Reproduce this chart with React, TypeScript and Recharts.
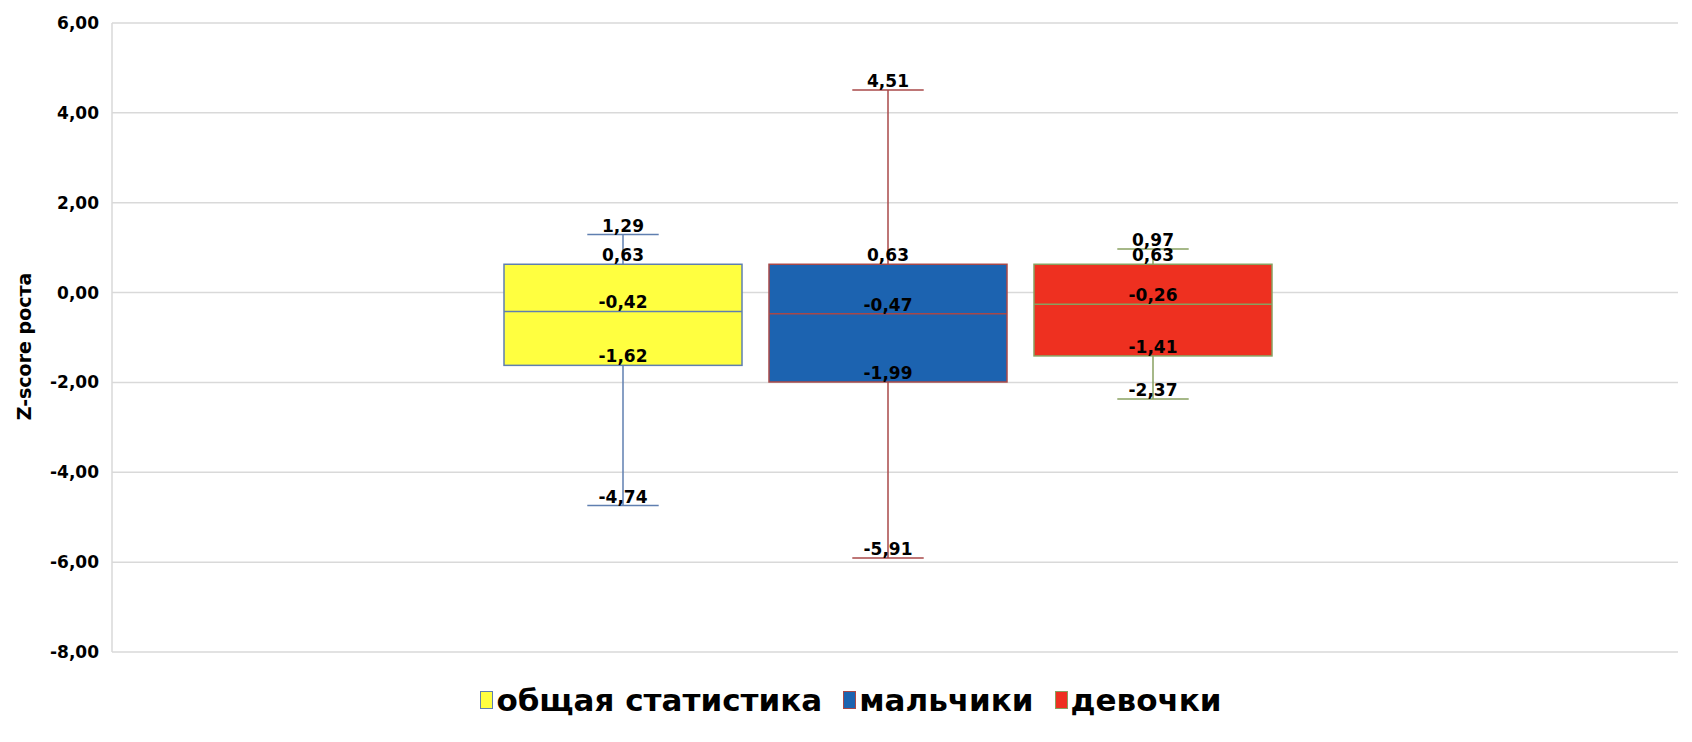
import React from "react"
import { ComposedChart, Bar, XAxis, YAxis, CartesianGrid, Legend } from "recharts"

const FONT = '"DejaVu Sans", Verdana, sans-serif'

const seriesNames = ["общая статистика", "мальчики", "девочки"]
const minValues = [-4.74, -5.91, -2.37]
const q1Values = [-1.62, -1.99, -1.41]
const medianValues = [-0.42, -0.47, -0.26]
const q3Values = [0.63, 0.63, 0.63]
const maxValues = [1.29, 4.51, 0.97]
const yTicks = [-8, -6, -4, -2, 0, 2, 4, 6]

const fills = ["#ffff40", "#1c63b0", "#ee3020"]
const strokes = ["#5f7fb0", "#a84848", "#88a060"]

const fmt = (v: number) => v.toFixed(2).replace(".", ",")

// one category, each series is a [q1, q3] range bar
const row: Record<string, any> = { name: "group" }
seriesNames.forEach((_, i) => {
  row[`s${i}`] = [q1Values[i], q3Values[i]]
})
const data = [row]

function makeBoxShape(i: number) {
  return (props: any) => {
    const { x, y, width, height } = props
    const q1 = q1Values[i]
    const q3 = q3Values[i]
    const k = height / (q3 - q1)
    const py = (v: number) => y + (q3 - v) * k
    const cx = x + width / 2
    const cap = width * 0.3
    const stroke = strokes[i]
    const lbl = (v: number) => (
      <text
        key={`l${v}`}
        x={cx}
        y={py(v) - 3}
        textAnchor="middle"
        fontFamily={FONT}
        fontWeight="bold"
        fontSize={17}
        fill="#000"
      >
        {fmt(v)}
      </text>
    )
    return (
      <g>
        <line x1={cx} x2={cx} y1={py(maxValues[i])} y2={py(q3)} stroke={stroke} strokeWidth={1.5} />
        <line x1={cx} x2={cx} y1={py(q1)} y2={py(minValues[i])} stroke={stroke} strokeWidth={1.5} />
        <line x1={cx - cap / 2} x2={cx + cap / 2} y1={py(maxValues[i])} y2={py(maxValues[i])} stroke={stroke} strokeWidth={1.5} />
        <line x1={cx - cap / 2} x2={cx + cap / 2} y1={py(minValues[i])} y2={py(minValues[i])} stroke={stroke} strokeWidth={1.5} />
        <rect x={x} y={y} width={width} height={height} fill={fills[i]} stroke={stroke} strokeWidth={1.5} />
        <line x1={x} x2={x + width} y1={py(medianValues[i])} y2={py(medianValues[i])} stroke={stroke} strokeWidth={1.5} />
        {lbl(maxValues[i])}
        {lbl(q3)}
        {lbl(medianValues[i])}
        {lbl(q1)}
        {lbl(minValues[i])}
      </g>
    )
  }
}

const renderLegend = () => (
  <div
    style={{
      height: 70,
      display: "flex",
      justifyContent: "center",
      alignItems: "flex-start",
      paddingTop: 30,
      paddingLeft: 24,
      boxSizing: "border-box",
      fontFamily: FONT,
      fontWeight: "bold",
      fontSize: 31,
      color: "#000",
      lineHeight: "36px",
    }}
  >
    {seriesNames.map((n, i) => (
      <div key={n} style={{ display: "flex", alignItems: "center", marginRight: i < seriesNames.length - 1 ? 21 : 0 }}>
        <span
          style={{
            display: "inline-block",
            width: 11,
            height: 16,
            background: fills[i],
            border: `1px solid ${strokes[i]}`,
            marginRight: 3,
          }}
        />
        <span>{n}</span>
      </div>
    ))}
  </div>
)

const yLabel = (props: any) => {
  const vb = props.viewBox || { x: 0, y: 23, height: 629 }
  const lx = vb.x + 24
  const ly = vb.y + vb.height / 2 + 9
  return (
    <text
      x={lx}
      y={ly}
      transform={`rotate(-90 ${lx} ${ly})`}
      textAnchor="middle"
      dominantBaseline="central"
      fontFamily={FONT}
      fontWeight="bold"
      fontSize={19}
      fill="#000"
    >
      Z-score роста
    </text>
  )
}

export default function App() {
  return (
    <div style={{ position: "absolute", left: 0, top: 0, width: 1692, height: 742, background: "#fff" }}>
      <ComposedChart
        width={1692}
        height={742}
        data={data}
        margin={{ top: 23, right: 14, left: 0, bottom: 20 }}
        barSize={238}
        barGap={27}
      >
        <CartesianGrid horizontal vertical={false} stroke="#d9d9d9" strokeWidth={1.5} />
        <XAxis dataKey="name" type="category" hide padding={{ left: 0, right: 14 }} />
        <YAxis
          width={112}
          type="number"
          domain={[-8, 6]}
          ticks={yTicks}
          interval={0}
          tickFormatter={fmt}
          tickLine={false}
          tickSize={6}
          tickMargin={7}
          axisLine={{ stroke: "#d9d9d9", strokeWidth: 1.5 }}
          tick={{ fontFamily: FONT, fontWeight: "bold", fontSize: 17, fill: "#000" }}
          label={{ content: yLabel }}
        />
        <Legend verticalAlign="bottom" align="center" content={renderLegend} />
        {seriesNames.map((n, i) => (
          <Bar key={n} dataKey={`s${i}`} name={n} isAnimationActive={false} shape={makeBoxShape(i)} />
        ))}
      </ComposedChart>
    </div>
  )
}
